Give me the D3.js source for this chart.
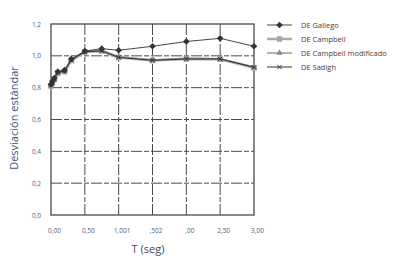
<!DOCTYPE html>
<html><head><meta charset="utf-8">
<script src="https://cdn.jsdelivr.net/npm/d3@7"></script>
<style>body{margin:0;background:#fff;} svg{display:block;}</style>
</head><body>
<svg id="c" width="398" height="264"></svg>
<script>
const periods = [0, 0.02, 0.05, 0.1, 0.2, 0.3, 0.5, 0.75, 1.0, 1.5, 2.0, 2.5, 3.0];
const gallego = [0.82, 0.84, 0.86, 0.90, 0.91, 0.98, 1.03, 1.045, 1.035, 1.06, 1.09, 1.11, 1.06];
const campbell = [0.81, 0.83, 0.85, 0.89, 0.90, 0.97, 1.025, 1.03, 0.99, 0.97, 0.98, 0.978, 0.925];
const campbellMod = [0.82, 0.84, 0.86, 0.90, 0.91, 0.975, 1.03, 1.035, 0.995, 0.975, 0.985, 0.983, 0.93];
const sadigh = [0.815, 0.835, 0.855, 0.895, 0.905, 0.975, 1.025, 1.03, 0.99, 0.972, 0.98, 0.98, 0.928];
const seriesNames = ["DE Gallego", "DE Campbell", "DE Campbell modificado", "DE Sadigh"];
const xTicks = [0, 0.5, 1.0, 1.5, 2.0, 2.5, 3.0];
const xTickLabels = ["0,00", "0,50", "1,001", ",502", ",00", "2,50", "3,00"];
const yTicks = [0, 0.2, 0.4, 0.6, 0.8, 1.0, 1.2];
const yTickLabels = ["0,0", "0,2", "0,4", "0,6", "0,8", "1,0", "1,2"];

const svg = d3.select("#c");
const L = 51, R = 254, T = 24, B = 215;
const x = d3.scaleLinear().domain([0, 3]).range([L, R]);
const y = d3.scaleLinear().domain([0, 1.2]).range([B, T]);

// grid
const g = svg.append("g");
g.selectAll(".vg").data(xTicks.slice(1, -1)).enter().append("line")
  .attr("x1", d => x(d)).attr("x2", d => x(d)).attr("y1", T).attr("y2", B)
  .attr("stroke", "#4a4a4a").attr("stroke-width", 1).attr("stroke-dasharray", "11,2,5,2");
g.selectAll(".hg").data(yTicks.slice(1, -1)).enter().append("line")
  .attr("x1", L).attr("x2", R).attr("y1", d => y(d)).attr("y2", d => y(d))
  .attr("stroke", "#4a4a4a").attr("stroke-width", 1).attr("stroke-dasharray", "11,2,5,2");
svg.append("rect").attr("x", L).attr("y", T).attr("width", R - L).attr("height", B - T)
  .attr("fill", "none").attr("stroke", "#4a4a4a").attr("stroke-width", 1.3);

// axes
const xAxis = d3.axisBottom(x).tickValues(xTicks).tickSize(0).tickPadding(13)
  .tickFormat((d, i) => xTickLabels[i]);
const xa = svg.append("g").attr("transform", `translate(0,${B})`).call(xAxis);
xa.select(".domain").remove();
xa.selectAll("text").attr("dx", 3).attr("font-family", "Open Sans, sans-serif").attr("font-size", 6.5).attr("fill", "#5a5a6a");

const yAxis = d3.axisLeft(y).tickValues(yTicks).tickSize(0).tickPadding(10)
  .tickFormat((d, i) => yTickLabels[i]);
const ya = svg.append("g").attr("transform", `translate(${L},0)`).call(yAxis);
ya.select(".domain").remove();
ya.selectAll("text").attr("font-family", "Open Sans, sans-serif").attr("font-size", 6.5).attr("fill", "#5a5a6a");

svg.append("text").attr("transform", "translate(18,118) rotate(-90)")
  .attr("text-anchor", "middle").attr("font-family", "Open Sans, sans-serif").attr("font-size", 11)
  .attr("fill", "#3b5378").text("Desviación estándar");
svg.append("text").attr("x", 148).attr("y", 253)
  .attr("text-anchor", "middle").attr("font-family", "Open Sans, sans-serif").attr("font-size", 11)
  .attr("fill", "#3b4a60").text("T (seg)");

const styles = [
  {data: gallego, line: "#444", lw: 1, marker: "diamond", mc: "#333", ms: 22},
  {data: campbell, line: "#aaa", lw: 2.5, marker: "square", mc: "#a5a5a5", ms: 30},
  {data: campbellMod, line: "#888", lw: 1.3, marker: "triangle", mc: "#8a8a8a", ms: 18},
  {data: sadigh, line: "#333", lw: 1, marker: "x", mc: "#333", ms: 14}
];
const symbolOf = m => m === "diamond" ? d3.symbolSquare : m === "square" ? d3.symbolSquare : m === "triangle" ? d3.symbolTriangle : d3.symbolX;
const line = d3.line().x((d, i) => x(periods[i])).y(d => y(d));

function drawMarker(sel, s, cx, cy) {
  const sym = d3.symbol().type(symbolOf(s.marker)).size(s.ms);
  const rot = s.marker === "diamond" ? " rotate(45)" : "";
  const p = sel.append("path").attr("d", sym()).attr("transform", `translate(${cx},${cy})${rot}`);
  if (s.marker === "x") p.attr("fill", "none").attr("stroke", s.mc).attr("stroke-width", 1);
  else p.attr("fill", s.mc).attr("stroke", "none");
}

// draw order: campbell (back), campbellMod, sadigh, gallego
[1, 2, 3, 0].forEach(k => {
  const s = styles[k];
  const gg = svg.append("g");
  gg.append("path").attr("d", line(s.data)).attr("fill", "none").attr("stroke", s.line).attr("stroke-width", s.lw);
  s.data.forEach((v, i) => drawMarker(gg, s, x(periods[i]), y(v)));
});

// legend
const legendY = [25, 39, 53, 67];
seriesNames.forEach((n, k) => {
  const s = styles[k];
  const lg = svg.append("g");
  lg.append("line").attr("x1", 267).attr("x2", 292).attr("y1", legendY[k]).attr("y2", legendY[k])
    .attr("stroke", s.line).attr("stroke-width", s.lw);
  drawMarker(lg, s, 279.5, legendY[k]);
  lg.append("text").attr("x", 301).attr("y", legendY[k] + 2.5).attr("font-family", "Open Sans, sans-serif")
    .attr("font-size", 7.5).attr("fill", "#4a3b30").text(n);
});
</script>
</body></html>
